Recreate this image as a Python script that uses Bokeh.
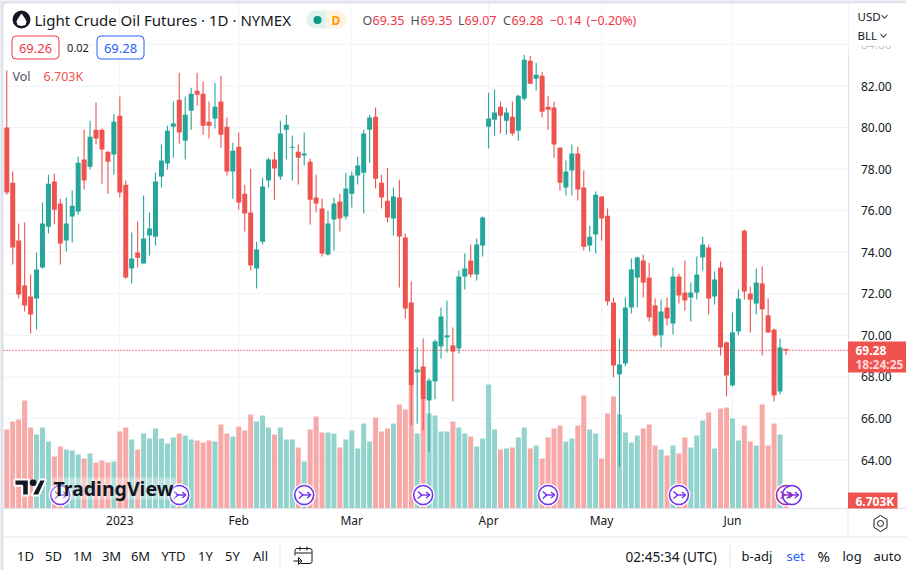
from bokeh.plotting import figure
from bokeh.models import (Range1d, LinearAxis, FixedTicker, Label, BoxAnnotation, PolyAnnotation,
                          ColumnDataSource)
from bokeh.embed import file_html
from bokeh.resources import INLINE

opens = [80.00,77.35,74.56,72.40,71.87,71.77,73.26,75.23,77.40,76.34,
74.56,75.72,75.96,78.46,78.12,79.90,79.90,78.84,78.70,80.57,
77.25,73.22,73.99,73.46,74.80,74.75,77.64,78.27,80.04,81.34,
79.37,80.81,81.77,81.63,80.28,80.43,81.25,80.04,77.88,79.08,
76.82,75.91,73.22,74.51,77.45,78.46,77.64,79.90,79.03,78.84,
78.65,78.36,76.63,76.10,73.89,75.57,76.44,75.72,76.82,77.69,
77.83,79.90,80.52,77.35,76.48,75.62,76.63,74.71,71.58,68.22,
68.50,66.87,67.79,69.47,69.90,69.52,69.37,72.83,73.60,72.93,
74.32,80.04,80.38,81.00,80.33,80.52,79.85,81.39,83.22,82.35,
82.49,81.00,80.96,79.03,77.11,77.93,78.75,77.11,74.32,74.85,
76.68,75.76,71.58,68.12,68.65,71.34,72.78,73.60,72.78,71.44,
70.00,71.34,70.57,72.83,72.06,71.82,72.06,73.75,74.23,71.87,
73.26,69.66,67.59,70.19,75.04,72.01,71.53,72.50,70.96,70.28,
67.30,69.35]
closes = [76.87,74.23,71.97,71.44,71.00,73.17,75.38,77.30,76.05,74.42,
75.38,76.24,78.31,77.45,79.56,79.47,78.94,78.36,80.28,76.87,
72.78,73.70,73.74,74.66,75.14,77.40,78.41,79.85,80.19,79.76,
80.62,81.63,81.58,80.09,80.09,81.00,79.66,77.88,78.89,76.39,
75.86,73.36,74.13,77.16,78.46,78.03,79.71,80.14,79.08,78.55,
78.75,76.53,76.34,73.94,75.38,76.34,75.62,77.07,77.69,78.17,
79.71,80.48,77.54,76.63,75.67,76.68,74.76,71.29,67.59,68.36,
66.92,67.83,69.71,70.91,70.00,69.22,72.83,73.22,72.93,74.37,
75.67,80.43,80.72,80.57,80.72,79.71,81.53,83.26,82.11,82.54,
80.76,80.86,79.18,77.35,77.88,78.75,77.02,74.27,74.75,76.77,
75.62,71.63,68.55,68.60,71.34,73.17,73.75,72.54,70.86,70.00,
71.15,70.81,72.83,71.92,71.68,72.06,72.93,74.37,71.77,72.69,
69.42,68.07,70.14,71.77,72.11,71.72,72.54,71.25,70.14,67.11,
69.42,69.28]
highs = [82.74,77.88,75.38,75.43,72.93,73.99,76.39,77.73,77.78,76.58,
76.63,76.97,78.60,79.90,80.33,81.20,79.95,78.86,80.67,81.49,
77.45,74.95,75.48,76.73,75.91,77.83,79.18,80.09,81.25,82.64,
81.49,81.92,82.64,82.21,81.25,82.16,82.49,80.48,79.27,79.76,
77.25,78.02,74.51,77.59,78.55,78.84,80.33,80.62,79.61,79.18,
79.76,78.50,77.73,76.58,76.00,76.63,76.82,77.83,77.88,78.60,
79.90,80.62,80.96,77.73,78.07,77.11,77.49,74.90,72.59,69.42,
69.85,67.93,69.80,71.34,71.68,70.38,73.12,73.94,74.37,74.66,
75.72,81.68,81.82,81.25,80.96,81.25,81.58,83.50,83.46,83.12,
82.69,81.53,81.25,79.08,78.41,79.18,79.08,77.93,75.28,76.92,
76.70,76.10,71.82,69.85,71.82,73.70,73.79,73.89,73.50,71.77,
71.72,71.82,73.26,72.97,73.60,72.54,73.79,74.75,74.37,73.07,
73.55,69.71,71.10,72.21,75.09,72.35,73.22,73.31,71.77,70.33,
69.85,69.35]
lows = [76.77,73.41,71.77,71.15,70.09,70.28,73.22,74.90,75.33,73.41,
74.03,74.47,75.81,77.02,77.98,79.18,77.30,76.82,77.73,76.63,
72.73,72.49,73.26,73.46,73.84,74.32,77.11,77.98,78.55,79.22,
78.46,79.90,81.05,79.66,79.47,79.95,79.03,77.69,76.58,76.05,
75.00,73.12,72.25,74.37,77.11,76.53,77.49,78.46,77.45,77.26,
78.17,75.33,75.91,73.79,73.84,74.08,75.00,75.57,76.15,77.26,
75.86,78.31,77.07,76.10,75.43,74.80,72.30,70.81,65.67,65.75,
65.43,64.39,66.92,68.89,69.18,66.82,69.13,72.21,72.79,72.64,
73.79,78.99,79.61,79.71,79.66,79.61,79.37,81.29,82.10,81.77,
80.48,79.90,78.55,76.97,76.73,76.73,76.49,74.08,74.03,73.94,
74.56,71.44,67.98,63.65,68.51,71.05,71.34,71.82,70.67,69.95,
69.42,70.47,70.04,71.53,71.20,70.67,71.72,73.12,71.00,71.49,
69.03,67.06,67.54,70.00,71.72,70.14,71.00,69.03,70.11,66.82,
67.16,69.07]
volumes = [71.1,78.3,80.1,97.2,72.9,66.6,72.9,60.3,46.8,55.8,
53.1,52.2,48.6,45.0,49.5,41.4,43.2,41.4,42.3,69.3,
72.9,62.1,53.1,67.5,63.0,72.0,63.0,58.5,63.9,67.5,
65.7,62.1,61.2,59.4,61.2,60.3,75.6,67.5,64.8,73.8,
70.2,84.6,78.3,83.7,72.9,66.6,72.9,62.1,62.1,54.9,
42.3,71.1,82.8,68.4,68.4,67.5,54.9,62.1,70.2,54.0,
76.5,60.3,81.9,69.3,72.0,76.5,93.6,89.1,110.7,67.5,
98.1,85.5,83.7,69.3,69.3,78.3,72.9,67.5,64.8,55.8,
63.0,111.6,71.1,53.1,54.0,54.9,63.9,72.9,54.0,56.7,
45.0,63.9,72.0,74.7,60.3,63.0,74.7,101.7,71.1,67.5,
45.0,85.5,100.8,84.6,68.4,59.4,65.7,72.0,75.6,56.7,
53.1,47.7,56.7,49.5,63.9,54.9,65.7,79.2,86.4,54.0,
90.0,90.9,81.0,61.2,74.7,60.3,56.7,93.6,56.7,76.5,
66.6,6.703]
price_ticks = [64, 66, 68, 70, 72, 74, 76, 78, 80, 82, 84]
month_bars = [19, 39, 58, 81, 100, 122]
month_labels = ["2023", "Feb", "Mar", "Apr", "May", "Jun"]
event_bars = [9, 29, 50, 70, 91, 113, 131, 132]
event_colors = ["#7030F0"]*6 + ["#9C27B0", "#7030F0"]
last_price = 69.28
INK, UP, DOWN, LINE, GRID = "#131722", "#26A69A", "#EF5350", "#E0E3EB", "#F0F3FA"
FONT = "Noto Sans"

idx = list(range(len(opens)))
up = [c >= o for o, c in zip(opens, closes)]
src = ColumnDataSource(dict(
    x=idx, o=opens, h=highs, l=lows, c=closes, v=volumes,
    top=[max(a, b) for a, b in zip(opens, closes)],
    bot=[min(a, b) for a, b in zip(opens, closes)],
    col=[UP if u else DOWN for u in up],
    vcol=["#92D3CD" if u else "#F7A9A8" for u in up]))

W, H = 906, 570
PX_BAR, PX_UNIT, PX_VOL = 5.948, 20.78, 0.9      # pixels per bar, pixels per price unit, K per pixel
X0, Y82, Y_VOL0, X_AXIS = 6.3, 85.5, 508.0, 847.5


def xd(px):
    return (px - X0) / PX_BAR


def yd(py):
    return 82 - (py - Y82) / PX_UNIT


p = figure(width=W, height=H, output_backend="svg", toolbar_location=None, tools="",
           x_range=Range1d(xd(0), xd(W)), y_range=Range1d(yd(H), yd(0)),
           x_axis_location=None, y_axis_location=None,
           min_border=0, min_border_left=0, min_border_right=0, min_border_top=0, min_border_bottom=0,
           border_fill_color=LINE, background_fill_color=LINE, outline_line_color=None)
p.extra_y_ranges = {"vol": Range1d((Y_VOL0 - H) * PX_VOL, Y_VOL0 * PX_VOL)}
p.grid.visible = False


def box(l, t, r, b, color, alpha=1.0, radius=0, level="annotation", line=None, lw=1):
    a = BoxAnnotation(left=l, right=r, top=t, bottom=b, left_units="canvas", right_units="canvas",
                      top_units="canvas", bottom_units="canvas", fill_color=color, fill_alpha=alpha,
                      line_color=line, line_width=lw, line_alpha=1 if line else 0, border_radius=radius, level=level)
    p.add_layout(a)


def poly(xs, ys, color=None, line=None, lw=1):
    p.add_layout(PolyAnnotation(xs=xs, ys=ys, xs_units="canvas", ys_units="canvas",
                                fill_color=color, fill_alpha=1 if color else 0,
                                line_color=line, line_width=lw, line_alpha=1 if line else 0))


def txt(s, x, y, size=13, color=INK, align="left", style="normal", font=FONT, **kw):
    p.add_layout(Label(x=x, y=y, x_units="canvas", y_units="canvas", text=s, text_font=font,
                       text_font_size=f"{size}px", text_color=color, text_align=align,
                       text_baseline="middle", text_font_style=style, **kw))


def chev(x, y):
    poly([x, x+3, x+6, x+6, x+3, x], [y, y+3, y, y+1.2, y+4.2, y+1.2], color=INK)


# card
box(3, 3, 911, 575, "#FFFFFF", radius=4, level="underlay")

# grid
n_m, n_p = len(month_bars), len(price_ticks)
p.segment(month_bars, [yd(3)]*n_m, month_bars, [yd(Y_VOL0)]*n_m, line_color=GRID, line_width=1)
p.segment([xd(3)]*n_p, price_ticks, [xd(X_AXIS)]*n_p, price_ticks, line_color=GRID, line_width=1)

# axes held at fixed positions so the frame can fill the card
yaxis = LinearAxis(fixed_location=xd(X_AXIS), ticker=FixedTicker(ticks=price_ticks), bounds=(yd(Y_VOL0), yd(3)),
                   major_label_overrides={t: f"{t:.2f}" for t in price_ticks},
                   major_tick_line_color=None, minor_tick_line_color=None, axis_line_color=LINE,
                   major_label_standoff=7, major_label_text_font=FONT, major_label_text_font_size="12px",
                   major_label_text_color=INK)
p.add_layout(yaxis, "right")
xaxis = LinearAxis(fixed_location=yd(Y_VOL0), ticker=FixedTicker(ticks=month_bars), bounds=(xd(3), xd(911)),
                   major_label_overrides=dict(zip(month_bars, month_labels)),
                   major_tick_line_color=None, minor_tick_line_color=None, axis_line_color=LINE,
                   major_tick_out=0, major_label_standoff=3, major_label_text_font=FONT,
                   major_label_text_font_size="12px", major_label_text_color=INK)
p.add_layout(xaxis, "below")

# volume and candles
p.vbar(x="x", top="v", bottom=0, width=0.84, fill_color="vcol", line_color=None, source=src, y_range_name="vol")
p.segment(x0="x", x1="x", y0="l", y1="h", line_color="col", line_width=1.1, source=src)
p.vbar(x="x", top="top", bottom="bot", width=0.84, fill_color="col", line_color=None, source=src)
p.segment([xd(3)], [last_price], [xd(X_AXIS)], [last_price], line_color="#F23645", line_width=1.3, line_dash="1 2")

# event markers
EV = 12.15
p.scatter(event_bars, [EV]*len(event_bars), size=23, fill_color="#FFFFFF", line_color=None, y_range_name="vol")
p.scatter(event_bars, [EV]*len(event_bars), size=19, fill_color="#FFFFFF", line_color=event_colors,
          line_width=1.6, y_range_name="vol")
p.multi_line([[b-0.9, b-0.2, b-0.9] for b in event_bars], [[EV+3.2, EV, EV-3.2] for b in event_bars],
             line_color=event_colors, line_width=1.4, y_range_name="vol")
p.multi_line([[b-0.5, b+1.1] for b in event_bars], [[EV, EV] for b in event_bars],
             line_color=event_colors, line_width=1.4, y_range_name="vol")
p.multi_line([[b+0.5, b+1.1, b+0.5] for b in event_bars], [[EV+2.7, EV, EV-2.7] for b in event_bars],
             line_color=event_colors, line_width=1.4, y_range_name="vol")

# chrome
box(848, 3, 908, 46, "#FFFFFF")
box(848, 46, 908, 50, "#FFFFFF", alpha=0.75)
box(847, 508, 848, 536, LINE)
box(3, 536, 911, 537, LINE)
box(279, 545, 280, 567, LINE)
box(729, 545, 730, 567, LINE)

# header
box(12, 10, 30, 28, INK, radius=9)
poly([21, 24.5, 26, 25, 21, 17, 16, 17.5], [13, 18, 21, 24.5, 25.5, 24.5, 21, 18], color="#FFFFFF")
txt("Light Crude Oil Futures · 1D · NYMEX", 34, 19.5, 15)
box(306, 10, 326, 28, "#E0F2F0", radius=9)
box(318, 10, 326, 28, "#E0F2F0")
box(326, 10, 346, 28, "#FFF3E0", radius=9)
box(326, 10, 334, 28, "#FFF3E0")
box(313, 15.5, 321, 23.5, "#089981", radius=4)
txt("D", 335.5, 19.5, 12, "#FF9800", "center", "bold")
ohlc = [("O", 362, "#50535E"), ("69.35", 372, "#F23645"), ("H", 410, "#50535E"), ("69.35", 420, "#F23645"),
        ("L", 457.5, "#50535E"), ("69.07", 464, "#F23645"), ("C", 502.5, "#50535E"), ("69.28", 511, "#F23645"),
        ("−0.14", 549, "#F23645"), ("(−0.20%)", 586, "#F23645")]
for s, x, c in ohlc:
    txt(s, x, 20, 12.5, c)
box(11.5, 35.5, 58.5, 58.5, "#FFFFFF", radius=4, line="#F23645")
txt("69.26", 35, 47.5, 13, "#F23645", "center")
txt("0.02", 77.5, 47.5, 11, INK, "center")
box(96.5, 35.5, 143.5, 58.5, "#FFFFFF", radius=4, line="#2962FF")
txt("69.28", 120, 47.5, 13, "#2962FF", "center")
txt("Vol", 12, 76, 12.5, "#50535E")
txt("6.703K", 43, 76, 12.5, DOWN)

# right scale header
txt("USD", 857, 15.5, 11.5)
chev(881, 14)
txt("BLL", 857, 34.5, 11.5)
chev(880, 33)

# last price tags
box(847.5, 341, 907, 372, DOWN)
txt("69.28", 855, 349.5, 12, "#FFFFFF", style="bold")
txt("18:24:25", 855, 363.5, 12, "#FFD9D8", style="bold")
box(847.5, 492, 897, 508, DOWN)
txt("6.703K", 855, 500.5, 12, "#FFFFFF", style="bold")

# logo
logo = dict(color=INK, line="#FFFFFF", lw=2)
box(50, 477, 176, 499, "#FFFFFF", alpha=0.35, radius=4)
poly([14, 28.3, 28.3, 21.7, 21.7, 14], [479, 479, 495, 495, 485.3, 485.3], **logo)
box(29.3, 479, 36, 485.6, INK, radius=3)
poly([39.3, 45.7, 38.3, 31], [479, 479, 495, 495], **logo)
txt("TradingView", 53, 488, 19.5, INK, style="bold")

# bottom toolbar
for s, x in zip(["1D", "5D", "1M", "3M", "6M", "YTD", "1Y", "5Y", "All"], [25, 53, 82, 111, 140, 173, 205, 232, 260]):
    txt(s, x, 555.5, 13, INK, "center")
box(294.5, 548, 311.5, 563, "#FFFFFF", radius=2, line=INK)
box(295, 552, 311, 553, INK)
box(299, 546, 300, 550, INK)
box(306, 546, 307, 550, INK)
box(292, 555, 300, 564, "#FFFFFF")
box(293, 560, 301, 561, INK)
poly([298, 301.5, 298], [557, 560.5, 564], line=INK)
txt("02:45:34 (UTC)", 625, 555.5, 13.6)
txt("b-adj", 741, 555.5, 13)
txt("set", 786, 555.5, 13, "#2962FF")
txt("%", 817, 555.5, 15)
txt("log", 842, 555.5, 13)
txt("auto", 873, 555.5, 13)

# settings icon
poly([880, 886.5, 886.5, 880, 873.5, 873.5], [515, 519, 527, 531, 527, 519], line=INK)
box(877, 520, 883, 526, "#FFFFFF", radius=3, line=INK)

html = file_html(p, INLINE)
open("out.html", "w").write(html)
